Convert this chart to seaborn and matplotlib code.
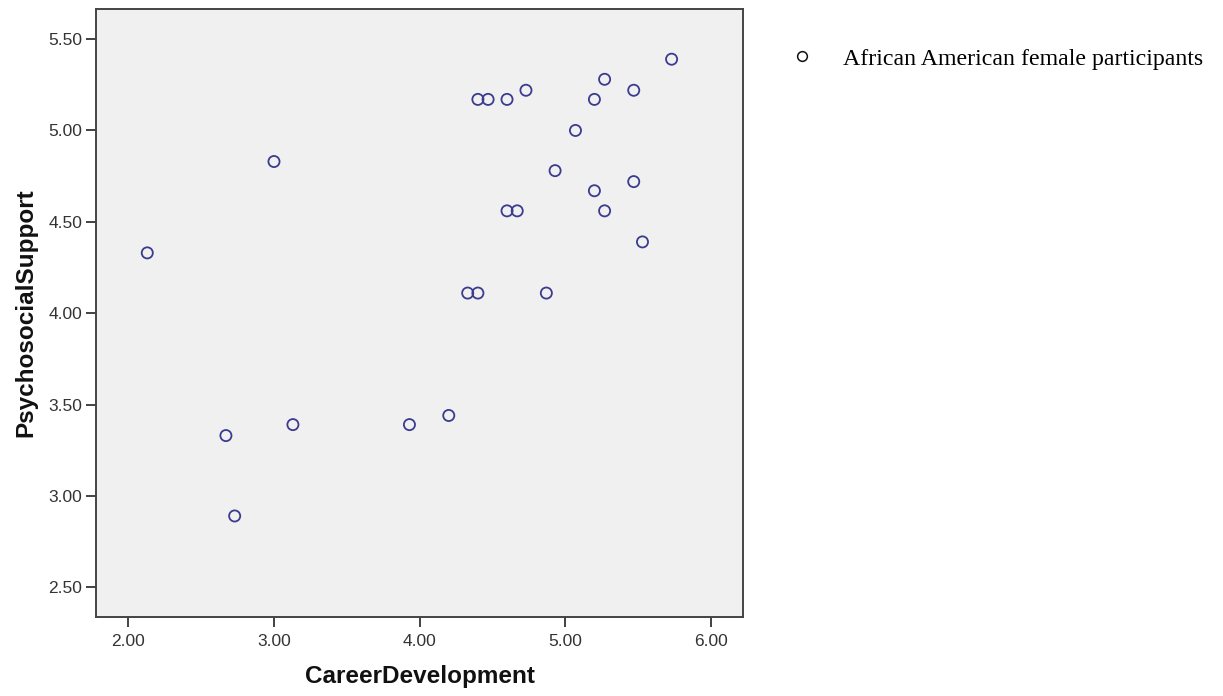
import matplotlib
matplotlib.use("Agg")
import matplotlib.pyplot as plt
from matplotlib.lines import Line2D
import seaborn as sns
import pandas as pd

# Mean scale scores per participant
career_development = [2.13, 3.00, 2.67, 2.73, 3.13, 3.93, 4.20, 4.33, 4.40, 4.87,
                      4.40, 4.47, 4.60, 4.73, 5.27, 5.20, 5.47, 5.73, 5.07, 4.93,
                      5.20, 5.47, 4.60, 4.67, 5.27, 5.53]
psychosocial_support = [4.33, 4.83, 3.33, 2.89, 3.39, 3.39, 3.44, 4.11, 4.11, 4.11,
                        5.17, 5.17, 5.17, 5.22, 5.28, 5.17, 5.22, 5.39, 5.00, 4.78,
                        4.67, 4.72, 4.56, 4.56, 4.56, 4.39]
x_ticks = [2.0, 3.0, 4.0, 5.0, 6.0]
y_ticks = [2.5, 3.0, 3.5, 4.0, 4.5, 5.0, 5.5]
group_label = "African American female participants"

df = pd.DataFrame({"CareerDevelopment": career_development,
                   "PsychosocialSupport": psychosocial_support})

sns.set_theme(style="white")
plt.rcParams["font.family"] = ["Liberation Sans", "DejaVu Sans"]

fig = plt.figure(figsize=(12.23, 6.96), dpi=100)
ax = fig.add_axes([0.0785, 0.1135, 0.529, 0.8731])
ax.set_facecolor("#f0f0f0")

sns.scatterplot(data=df, x="CareerDevelopment", y="PsychosocialSupport", ax=ax,
                marker="o", s=64, facecolor="none", edgecolor="#3b3b8f",
                linewidth=1.3, legend=False)

ax.set_xlim(1.778, 6.22)
ax.set_ylim(2.337, 5.663)
ax.set_xticks(x_ticks)
ax.set_yticks(y_ticks)
ax.set_xticklabels([f"{v:.2f}" for v in x_ticks])
ax.set_yticklabels([f"{v:.2f}" for v in y_ticks])
ax.tick_params(axis="both", direction="out", length=7, width=1.3, color="#333333",
               labelsize=12.5, labelcolor="#333333", pad=3,
               bottom=True, left=True)
ax.tick_params(axis="x", pad=5)

for sp in ax.spines.values():
    sp.set_color("#444444")
    sp.set_linewidth(1.4)

ax.set_xlabel("CareerDevelopment", fontsize=17.5, fontweight="bold", color="#111111",
              labelpad=12)
ax.set_ylabel("PsychosocialSupport", fontsize=17.5, fontweight="bold", color="#111111",
              labelpad=8)

handle = Line2D([], [], linestyle="none", marker="o", markersize=7,
                markerfacecolor="none", markeredgecolor="#111111", markeredgewidth=1.1)
fig.legend([handle], [group_label], loc="upper left",
           bbox_to_anchor=(0.6305, 0.962), frameon=False, handlelength=0.8,
           handletextpad=1.3, labelcolor="#000000",
           prop={"family": "Liberation Serif", "size": 17.2})

fig.savefig("out.png", dpi=100)
